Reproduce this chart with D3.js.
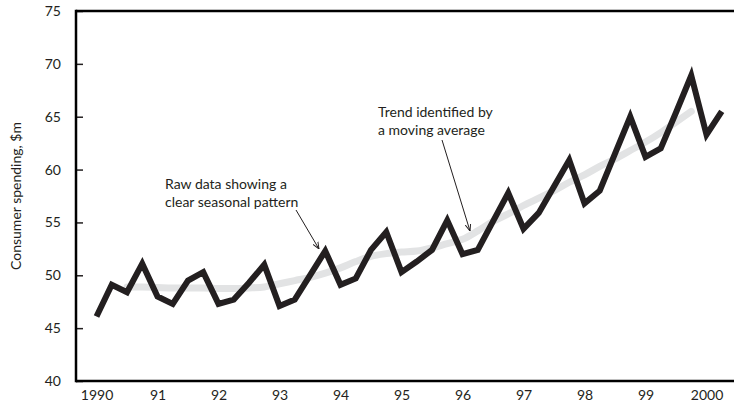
<!DOCTYPE html>
<html>
<head>
<meta charset="utf-8">
<script src="https://cdn.jsdelivr.net/npm/d3@7"></script>
<style>
  html, body { margin: 0; padding: 0; background: #fff; }
  svg { display: block; }
  text { font-family: "Lato", "Open Sans", sans-serif; fill: #231f20; }
</style>
</head>
<body>
<svg id="chart" width="734" height="404"></svg>
<script>
// ---- data (quarterly, 1990 Q1 .. 2000 Q2) ----
const startYear = 1990;
const rawValues = [
  46.1, 49.1, 48.4, 51.1,
  48.0, 47.3, 49.5, 50.3,
  47.3, 47.7, 49.3, 51.0,
  47.1, 47.7, 50.0, 52.3,
  49.1, 49.7, 52.4, 54.1,
  50.3, 51.3, 52.4, 55.2,
  52.0, 52.4, 55.1, 57.8,
  54.4, 55.9, 58.4, 60.9,
  56.8, 58.0, 61.5, 65.0,
  61.2, 62.0, 65.4, 68.9,
  63.3, 65.5
];
// moving-average trend, starting at quarter index 2
const trendStartIndex = 2;
const trendValues = [
  48.9, 48.9, 48.85, 48.8, 48.8, 48.8, 48.75, 48.75, 48.8, 48.9,
  49.2, 49.5, 49.8, 50.2, 50.7, 51.3, 51.8, 52.05, 52.2, 52.3,
  52.6, 53.0, 53.4, 54.2, 55.1, 55.8, 56.6, 57.3, 58.0, 58.8,
  59.5, 60.3, 61.0, 61.8, 62.6, 63.5, 64.5, 65.5
];
const yTicks = [40, 45, 50, 55, 60, 65, 70, 75];
const xTickYears = [1990, 1991, 1992, 1993, 1994, 1995, 1996, 1997, 1998, 1999, 2000];
const xTickLabels = ["1990", "91", "92", "93", "94", "95", "96", "97", "98", "99", "2000"];
const yAxisTitle = "Consumer spending, $m";
const annotRaw = ["Raw data showing a", "clear seasonal pattern"];
const annotTrend = ["Trend identified by", "a moving average"];

(function () {
// ---- layout ----
const svg = d3.select("#chart");
const pL = 76, pR = 734, pT = 11, pB = 381;
const fs = 14;

const x = d3.scaleLinear().domain([1990, 2000]).range([96.5, 706.5]);
const y = d3.scaleLinear().domain([40, 75]).range([pB, pT]);

const rawData = rawValues.map((v, i) => ({ t: startYear + i / 4, v }));
const trendData = trendValues.map((v, i) => ({ t: startYear + (i + trendStartIndex) / 4, v }));

// arrow marker
const defs = svg.append("defs");
defs.append("marker")
  .attr("id", "arrow")
  .attr("viewBox", "0 0 10 10")
  .attr("refX", 10).attr("refY", 5)
  .attr("markerWidth", 7).attr("markerHeight", 7)
  .attr("markerUnits", "userSpaceOnUse")
  .attr("orient", "auto")
  .append("path")
  .attr("d", "M0,1 L10,5 L0,9")
  .attr("fill", "none")
  .attr("stroke", "#231f20")
  .attr("stroke-width", 1.4);

// y axis ticks (inside) and labels
const yAxis = d3.axisLeft(y).tickValues(yTicks).tickSize(-7).tickPadding(15).tickFormat(d3.format("d"));
const gy = svg.append("g").attr("transform", `translate(${pL},0)`).call(yAxis);
gy.select(".domain").remove();
gy.selectAll(".tick line").attr("stroke", "#231f20").attr("stroke-width", 1.5);
gy.selectAll(".tick text").attr("font-size", fs).attr("font-family", "Lato, sans-serif").attr("fill", "#2a2a2a");

// x axis labels
const xAxis = d3.axisBottom(x).tickValues(xTickYears).tickSize(0).tickPadding(9)
  .tickFormat((d, i) => xTickLabels[i]);
const gx = svg.append("g").attr("transform", `translate(0,${pB})`).call(xAxis);
gx.select(".domain").remove();
gx.selectAll(".tick text").attr("font-size", fs).attr("font-family", "Lato, sans-serif").attr("fill", "#2a2a2a");

// trend line
svg.append("path")
  .datum(trendData)
  .attr("fill", "none")
  .attr("stroke", "#e2e3e4")
  .attr("stroke-width", 7)
  .attr("stroke-linecap", "round")
  .attr("stroke-linejoin", "round")
  .attr("d", d3.line().x(d => x(d.t)).y(d => y(d.v)).curve(d3.curveMonotoneX));

// raw line
svg.append("path")
  .datum(rawData)
  .attr("fill", "none")
  .attr("stroke", "#231f20")
  .attr("stroke-width", 6)
  .attr("stroke-linejoin", "miter")
  .attr("stroke-miterlimit", 4)
  .attr("d", d3.line().x(d => x(d.t)).y(d => y(d.v)));

// frame
svg.append("line").attr("x1", pL).attr("x2", pR).attr("y1", pT).attr("y2", pT)
  .attr("stroke", "#000").attr("stroke-width", 2.5);
svg.append("line").attr("x1", pL).attr("x2", pR).attr("y1", pB).attr("y2", pB)
  .attr("stroke", "#000").attr("stroke-width", 2.5);
svg.append("line").attr("x1", pL).attr("x2", pL).attr("y1", pT - 1.25).attr("y2", pB + 1.25)
  .attr("stroke", "#000").attr("stroke-width", 2.5);

// y axis title
svg.append("text")
  .attr("transform", `translate(21,${(pT + pB) / 2}) rotate(-90)`)
  .attr("text-anchor", "middle")
  .attr("font-size", fs)
  .attr("fill", "#2a2a2a")
  .text(yAxisTitle);

// annotations
function annot(lines, tx, ty) {
  const t = svg.append("text").attr("font-size", fs).attr("fill", "#2a2a2a");
  lines.forEach((s, i) => t.append("tspan").attr("x", tx).attr("y", ty + i * 18).text(s));
}
annot(annotRaw, 165, 189);
annot(annotTrend, 378, 117);

svg.append("line").attr("x1", 296).attr("y1", 210).attr("x2", 319).attr("y2", 249)
  .attr("stroke", "#231f20").attr("stroke-width", 1).attr("marker-end", "url(#arrow)");
svg.append("line").attr("x1", 442).attr("y1", 140).attr("x2", 470).attr("y2", 231)
  .attr("stroke", "#231f20").attr("stroke-width", 1).attr("marker-end", "url(#arrow)");
})();
</script>
</body>
</html>
